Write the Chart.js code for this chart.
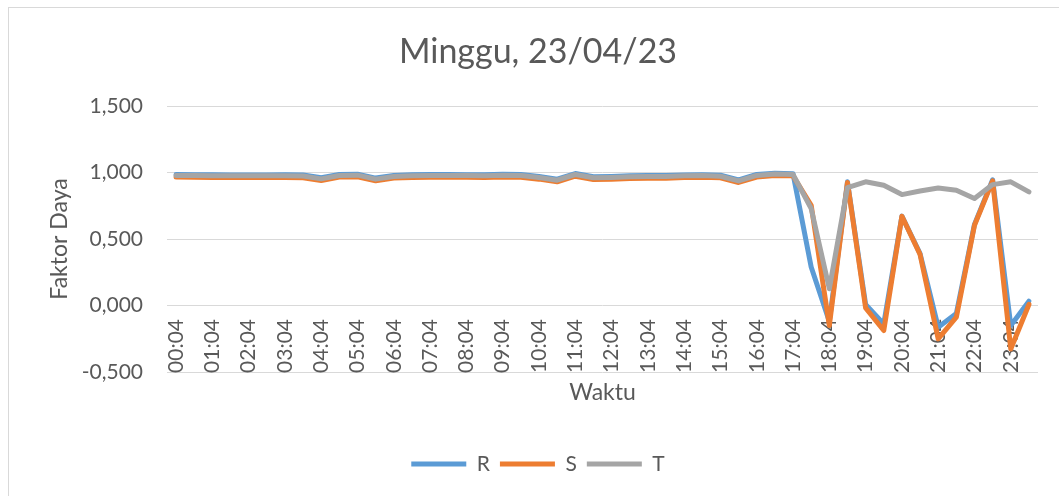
<!DOCTYPE html>
<html lang="id">
<head>
<meta charset="utf-8">
<title>Faktor Daya</title>
<script src="https://cdn.jsdelivr.net/npm/chart.js@4.4.1/dist/chart.umd.min.js"></script>
<style>
    html, body {
        margin: 0;
        padding: 0;
        background: #ffffff;
        overflow: hidden;
    }
    .wrap {
        position: relative;
        width: 1059px;
        height: 496px;
    }
    .frame {
        position: absolute;
        left: 8px;
        top: 7px;
        width: 1100px;
        height: 600px;
        border: 1px solid #d9d9d9;
        pointer-events: none;
    }
    #pf-chart {
        position: absolute;
        left: 0;
        top: 0;
    }
</style>
</head>
<body>
<div class="wrap">
    <div class="frame"></div>
    <canvas id="pf-chart" width="1059" height="496"></canvas>
</div>
<script>
// Jam pengukuran (tiap 30 menit)
const waktu = [
    '00:04', '00:34', '01:04', '01:34', '02:04', '02:34', '03:04', '03:34',
    '04:04', '04:34', '05:04', '05:34', '06:04', '06:34', '07:04', '07:34',
    '08:04', '08:34', '09:04', '09:34', '10:04', '10:34', '11:04', '11:34',
    '12:04', '12:34', '13:04', '13:34', '14:04', '14:34', '15:04', '15:34',
    '16:04', '16:34', '17:04', '17:34', '18:04', '18:34', '19:04', '19:34',
    '20:04', '20:34', '21:04', '21:34', '22:04', '22:34', '23:04', '23:34'
];

// Faktor daya per fasa
const fasaR = [
    0.985, 0.984, 0.983, 0.982, 0.982, 0.982, 0.983, 0.981,
    0.960, 0.985, 0.987, 0.958, 0.978, 0.983, 0.985, 0.985,
    0.984, 0.983, 0.987, 0.985, 0.970, 0.950, 0.992, 0.968,
    0.970, 0.975, 0.977, 0.977, 0.982, 0.984, 0.980, 0.945,
    0.985, 0.995, 0.990, 0.289, -0.120, 0.930, 0.008, -0.138,
    0.672, 0.390, -0.163, -0.060, 0.610, 0.945, -0.151, 0.032
];
const fasaS = [
    0.966, 0.965, 0.963, 0.962, 0.962, 0.962, 0.963, 0.961,
    0.940, 0.966, 0.968, 0.938, 0.958, 0.963, 0.965, 0.965,
    0.964, 0.963, 0.967, 0.965, 0.950, 0.930, 0.972, 0.948,
    0.950, 0.955, 0.957, 0.957, 0.962, 0.964, 0.960, 0.925,
    0.966, 0.978, 0.975, 0.754, -0.151, 0.925, -0.018, -0.188,
    0.671, 0.384, -0.251, -0.088, 0.603, 0.937, -0.327, 0.008
];
const fasaT = [
    0.978, 0.977, 0.976, 0.975, 0.975, 0.975, 0.976, 0.974,
    0.952, 0.978, 0.980, 0.950, 0.970, 0.976, 0.978, 0.978,
    0.977, 0.976, 0.980, 0.978, 0.962, 0.942, 0.985, 0.960,
    0.963, 0.968, 0.970, 0.970, 0.975, 0.977, 0.972, 0.937,
    0.978, 0.988, 0.985, 0.729, 0.126, 0.887, 0.930, 0.904,
    0.834, 0.861, 0.884, 0.867, 0.804, 0.909, 0.930, 0.854
];

const yTicks = { min: -0.5, max: 1.5, step: 0.5 };

const FONT = 'Lato, "Open Sans", sans-serif';
const TEXT_COLOR = '#595959';
const GRID_COLOR = '#d9d9d9';

function makeSeries(label, data, color, order) {
    return {
        label: label,
        data: data,
        borderColor: color,
        backgroundColor: color,
        borderWidth: 5,
        borderCapStyle: 'round',
        borderJoinStyle: 'round',
        tension: 0,
        pointRadius: 0,
        pointHoverRadius: 0,
        fill: false,
        order: order // T on top, then S, then R
    };
}

new Chart(document.getElementById('pf-chart'), {
    type: 'line',
    data: {
        labels: waktu,
        datasets: [
            makeSeries('R', fasaR, '#5b9bd5', 3),
            makeSeries('S', fasaS, '#ed7d31', 2),
            makeSeries('T', fasaT, '#a5a5a5', 1)
        ]
    },
    options: {
        responsive: false,
        animation: false,
        events: [],
        layout: {
            padding: { left: 38, right: 21, top: 0, bottom: 11.5 }
        },
        plugins: {
            title: {
                display: true,
                text: 'Minggu, 23/04/23',
                color: TEXT_COLOR,
                font: { family: FONT, size: 34, weight: 'normal', lineHeight: 1.2 },
                padding: { top: 31.6, bottom: 33.6 }
            },
            legend: {
                position: 'bottom',
                labels: {
                    usePointStyle: true,
                    pointStyle: 'line',
                    pointStyleWidth: 55,
                    padding: 10,
                    color: TEXT_COLOR,
                    font: { family: FONT, size: 21 },
                    sort: (a, b) => a.datasetIndex - b.datasetIndex
                }
            },
            tooltip: { enabled: false }
        },
        scales: {
            x: {
                offset: true,
                grid: { display: false, drawTicks: false },
                border: { display: false },
                ticks: {
                    autoSkip: false,
                    minRotation: 90,
                    maxRotation: 90,
                    padding: -53, // labels sit just under the zero line
                    color: TEXT_COLOR,
                    font: { family: FONT, size: 21 },
                    callback: function(value, index) {
                        return index % 2 === 0 ? this.getLabelForValue(value) : '';
                    }
                },
                title: {
                    display: true,
                    text: 'Waktu',
                    color: TEXT_COLOR,
                    font: { family: FONT, size: 23, lineHeight: 1.2 },
                    padding: { top: 0, bottom: 36.7 }
                },
                afterFit: (scale) => {
                    scale.height = 71.5;
                    // the labels are drawn above the axis box, so skip its clip
                    scale._computeLabelArea = () => null;
                }
            },
            y: {
                min: yTicks.min,
                max: yTicks.max,
                grid: { color: GRID_COLOR, lineWidth: 1, drawTicks: false },
                border: { display: false },
                ticks: {
                    stepSize: yTicks.step,
                    padding: 24,
                    color: TEXT_COLOR,
                    font: { family: FONT, size: 21 },
                    callback: (v) => v.toFixed(3).replace('.', ',')
                },
                title: {
                    display: true,
                    text: 'Faktor Daya',
                    color: TEXT_COLOR,
                    font: { family: FONT, size: 23, lineHeight: 1.2 },
                    padding: { top: 8.2, bottom: 0 }
                },
                afterFit: (scale) => { scale.width = 129; }
            }
        }
    }
});
</script>
</body>
</html>
